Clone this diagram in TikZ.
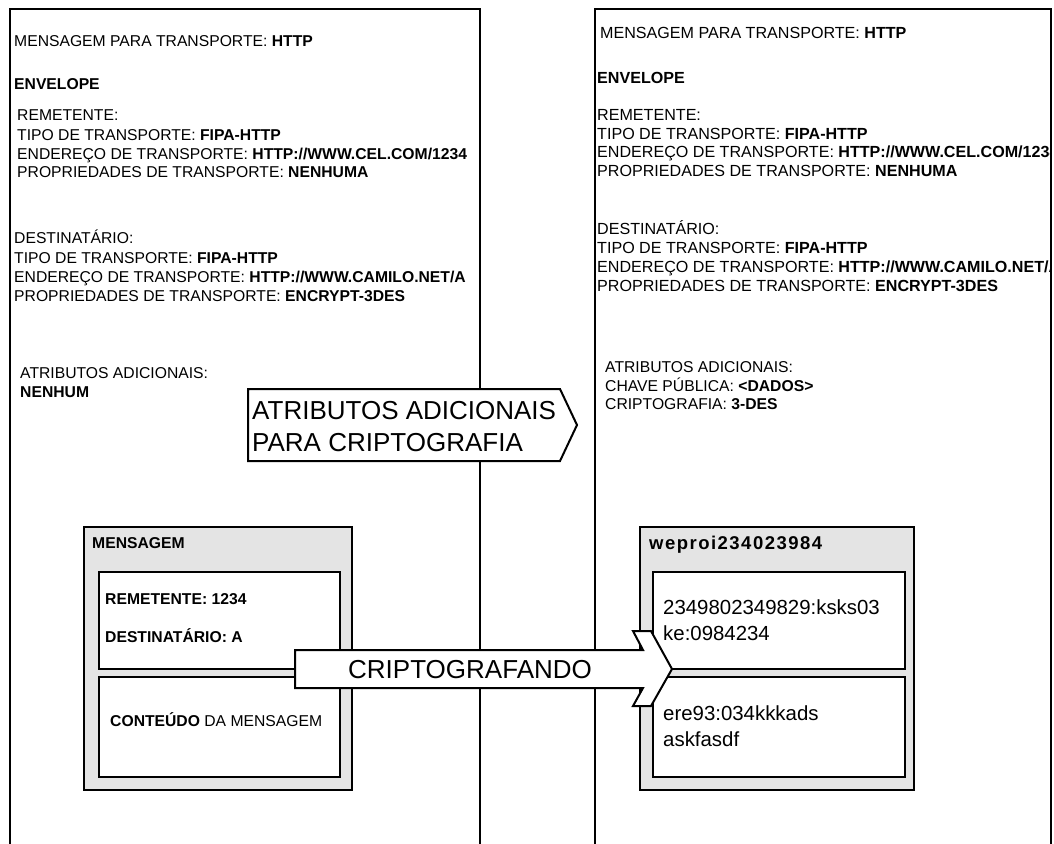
\documentclass[tikz,border=0pt]{standalone}
\usepackage{fontspec}
\setmainfont{Liberation Sans}
\definecolor{boxgray}{RGB}{228,228,228}
\begin{document}
\begin{tikzpicture}[x=1pt,y=-1pt,
  frame/.style={draw=black,line width=2.8pt,line join=miter},
  lbl/.style={anchor=base west,inner sep=0pt,font=\fontsize{15.7}{18.7}\selectfont},
  rlbl/.style={anchor=base west,inner sep=0pt,font=\fontsize{16.1}{19}\selectfont},
  biglbl/.style={anchor=base west,inner sep=0pt,font=\fontsize{26}{31}\selectfont},
  codelbl/.style={anchor=base west,inner sep=0pt,font=\fontsize{20.4}{26}\selectfont},
  outerbox/.style={draw=black,line width=2.8pt,fill=boxgray},
  innerbox/.style={draw=black,line width=2.8pt,fill=white},
  blockarrow/.style={draw=black,line width=2pt,fill=white,line join=miter}]
\useasboundingbox (0,0) rectangle (1054,843);
\fill[white] (0,0) rectangle (1054,843);

% transport message of the sender
\node[lbl] (l1)  at (14,46.6)  {MENSAGEM PARA TRANSPORTE: \textbf{HTTP}};
\node[lbl] (l2)  at (14,89.6)  {\textbf{ENVELOPE}};
\node[lbl] (l3)  at (17,120.6) {REMETENTE:};
\node[lbl] (l4)  at (17,140.6) {TIPO DE TRANSPORTE: \textbf{FIPA-HTTP}};
\node[lbl] (l5)  at (17,159.6) {ENDEREÇO DE TRANSPORTE: \textbf{HTTP://WWW.CEL.COM/1234}};
\node[lbl] (l6)  at (17,177.6) {PROPRIEDADES DE TRANSPORTE: \textbf{NENHUMA}};
\node[lbl] (l7)  at (14,243.6) {DESTINATÁRIO:};
\node[lbl] (l8)  at (14,263.6) {TIPO DE TRANSPORTE: \textbf{FIPA-HTTP}};
\node[lbl] (l9)  at (14,282.6) {ENDEREÇO DE TRANSPORTE: \textbf{HTTP://WWW.CAMILO.NET/A}};
\node[lbl] (l10) at (14,301.6) {PROPRIEDADES DE TRANSPORTE: \textbf{ENCRYPT-3DES}};
\node[lbl] (l11) at (20,378.6) {ATRIBUTOS ADICIONAIS:};
\node[lbl] (l12) at (20,397.6) {\textbf{NENHUM}};

% transport message after encryption
\begin{scope}
\clip (595,0) rectangle (1051,843);
\node[rlbl] (r1)  at (600,38.6)  {MENSAGEM PARA TRANSPORTE: \textbf{HTTP}};
\node[rlbl] (r2)  at (597,83.6)  {\textbf{ENVELOPE}};
\node[rlbl] (r3)  at (597,120.6) {REMETENTE:};
\node[rlbl] (r4)  at (597,139.6) {TIPO DE TRANSPORTE: \textbf{FIPA-HTTP}};
\node[rlbl] (r5)  at (597,157.6) {ENDEREÇO DE TRANSPORTE: \textbf{HTTP://WWW.CEL.COM/1234}};
\node[rlbl] (r6)  at (597,176.6) {PROPRIEDADES DE TRANSPORTE: \textbf{NENHUMA}};
\node[rlbl] (r7)  at (597,234.6) {DESTINATÁRIO:};
\node[rlbl] (r8)  at (597,253.6) {TIPO DE TRANSPORTE: \textbf{FIPA-HTTP}};
\node[rlbl] (r9)  at (597,272.6) {ENDEREÇO DE TRANSPORTE: \textbf{HTTP://WWW.CAMILO.NET/A}};
\node[rlbl] (r10) at (597,291.6) {PROPRIEDADES DE TRANSPORTE: \textbf{ENCRYPT-3DES}};
\node[lbl] (r11) at (605,372.6) {ATRIBUTOS ADICIONAIS:};
\node[lbl] (r12) at (605,391.6) {CHAVE PÚBLICA: \textbf{<DADOS>}};
\node[lbl] (r13) at (605,409.6) {CRIPTOGRAFIA: \textbf{3-DES}};
\end{scope}

% page frames, open at the bottom
\draw[frame] (10,850) -- (10,9) -- (480,9) -- (480,850);
\draw[frame] (595,850) -- (595,9) -- (1051,9) -- (1051,850);

% plain message
\draw[outerbox] (84,527) rectangle (352,790);
\draw[innerbox] (99,572) rectangle (340,669);
\draw[innerbox] (99,677) rectangle (340,777);
\node[lbl] (m1) at (92,548.6)  {\textbf{MENSAGEM}};
\node[lbl] (m2) at (105,604.6) {\textbf{REMETENTE: 1234}};
\node[lbl] (m3) at (105,642.6) {\textbf{DESTINATÁRIO: A}};
\node[lbl] (m4) at (110,726.6) {\textbf{CONTEÚDO} DA MENSAGEM};

% encrypted message
\draw[outerbox] (640,527) rectangle (914,790);
\draw[innerbox] (653,572) rectangle (905,669);
\draw[innerbox] (653,677) rectangle (905,777);
\node[anchor=base west,inner sep=0pt,
      font=\fontsize{18.5}{22}\selectfont\bfseries\addfontfeatures{LetterSpace=8}]
      (w1) at (649,549.6) {weproi234023984};
\node[codelbl] (w2) at (663,614.3) {2349802349829:ksks03};
\node[codelbl] (w3) at (663,640.3) {ke:0984234};
\node[codelbl] (w4) at (663,720.3) {ere93:034kkkads};
\node[codelbl] (w5) at (663,746.3) {askfasdf};

% added attributes callout
\draw[blockarrow] (248,389) -- (560,389) -- (577,425) -- (560,461) -- (248,461) -- cycle;
\node[biglbl] (a1) at (252,419.3) {ATRIBUTOS ADICIONAIS};
\node[biglbl] (a2) at (252,451.3) {PARA CRIPTOGRAFIA};

% encryption arrow
\draw[blockarrow] (295,650) -- (643,650) -- (633,631) -- (651,631) -- (672,669)
  -- (651,706) -- (633,706) -- (643,688) -- (295,688) -- cycle;
\node[biglbl] (c1) at (348,678.3) {CRIPTOGRAFANDO};
\end{tikzpicture}
\end{document}
